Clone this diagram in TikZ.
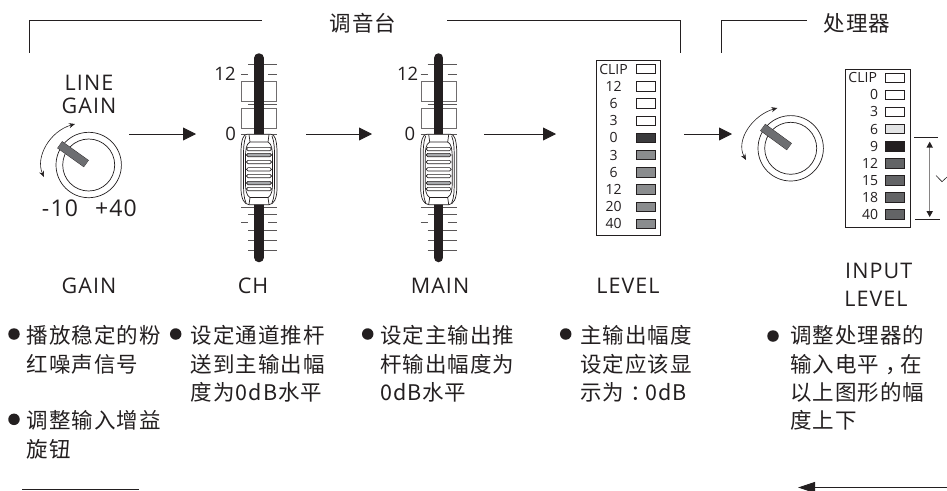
\documentclass[tikz,border=0pt]{standalone}
\usepackage{fontspec}
\setmainfont{Open Sans}
\newfontfamily\cjk[LetterSpace=4.5]{Noto Sans CJK SC}
\newfontfamily\lbl[LetterSpace=5]{Open Sans}
\usetikzlibrary{arrows.meta}
\definecolor{ink}{HTML}{231F20}
\definecolor{ptr}{HTML}{6D6E71}
\definecolor{ledA}{HTML}{8A8C8E}
\definecolor{ledB}{HTML}{636466}
\definecolor{ledC}{HTML}{3A3A3C}
\definecolor{ledD}{HTML}{E3E4E5}
\definecolor{ribg}{HTML}{A7A9AC}
\newcommand{\fullpunct}[1]{\hspace{6pt}#1\hspace{-6pt}}
\tikzset{
  ln/.style={draw=ink,line width=.9pt},
  flow/.style={ink,line width=.9pt,-{Triangle[length=13pt,width=13pt]}},
  turn/.style={ink,line width=.6pt,{Stealth[length=6pt,width=5pt]}-{Stealth[length=6pt,width=5pt]}},
  tick/.style={draw=ink!75,line width=.6pt},
  gate/.style={draw=ink!65,line width=.7pt,fill=white},
  capline/.style={draw=ink,line width=.7pt},
  rib/.style={draw=ink,line width=.6pt,fill=white,rounded corners=1.6pt},
  ribgray/.style={rib,fill=ribg},
  ring/.style={circle,draw=ink,line width=.7pt,inner sep=0pt,fill=white},
  led/.style={draw=ink,line width=.7pt,minimum width=19pt,minimum height=9.5pt,inner sep=0pt},
  meterbox/.style={draw=ink,line width=.8pt,inner sep=0pt},
  ml/.style={font=\fontsize{14}{14}\selectfont\color{ink},inner sep=0pt},
  big/.style={font=\lbl\fontsize{21.5}{21.5}\selectfont\color{ink},inner sep=0pt},
  rng/.style={font=\lbl\fontsize{23}{23}\selectfont\color{ink},inner sep=0pt},
  num/.style={font=\fontsize{18.5}{18.5}\selectfont\color{ink},inner sep=0pt},
  title/.style={font=\cjk\fontsize{21.5}{21.5}\selectfont\color{ink},inner sep=0pt},
  para/.style={font=\cjk\fontsize{21.5}{28.2}\selectfont\color{ink},inner sep=0pt,anchor=north west,align=left},
  dot/.style={circle,fill=ink,inner sep=0pt,minimum size=11.5pt},
  pics/fader/.style={code={
    \foreach \yy in {64.3,104.3,214.7,230.7,240.7,250.7} \draw[tick] (-11,\yy) -- (18,\yy);
    \foreach \yy in {134,207.3} \draw[tick] (-18,\yy) -- (18,\yy);
    \draw[gate] (-17.5,81.3) rectangle (17.5,101);
    \draw[gate] (-17.5,108.7) rectangle (17.5,128.3);
    \foreach \yy in {74.7,222.7} {\draw[tick] (-18,\yy) -- (-11,\yy); \draw[tick] (9,\yy) -- (18,\yy);}
    \draw[ink,line width=9.5pt,line cap=round] (0,58) -- (0,257.5);
    \path[capline,fill=white] (-12,134.3) -- (12,134.3) .. controls (16,134.5) and (17.5,140) .. (18,150) -- (18,190) .. controls (17.5,199) and (15,204) .. (10,204.7) -- (-10,204.7) .. controls (-15,204) and (-17.5,199) .. (-18,190) -- (-18,150) .. controls (-17.5,140) and (-16,134.5) .. (-12,134.3) -- cycle;
    \draw[capline] (-13,136) .. controls (-15.5,142) and (-15.5,150) .. (-15.5,158) -- (-15.5,182) .. controls (-15.5,190) and (-15.5,197) .. (-13,203);
    \draw[capline] (13,136) .. controls (15.5,142) and (15.5,150) .. (15.5,158) -- (15.5,182) .. controls (15.5,190) and (15.5,197) .. (13,203);
    \draw[capline] (-9,142) .. controls (-13,144) and (-13.5,150) .. (-13.5,158) -- (-13.5,182) .. controls (-13.5,190) and (-13,195) .. (-9,197.5) -- (9,197.5) .. controls (13,195) and (13.5,190) .. (13.5,182) -- (13.5,158) .. controls (13.5,150) and (13,144) .. (9,142) -- cycle;
    \draw[capline] (-9,142) -- (-10,134.5) (9,142) -- (10,134.5) (-9,197.5) -- (-10,204.5) (9,197.5) -- (10,204.5);
    \foreach \yy in {149,162,169.3,176,189} \draw[rib] (-12.5,\yy-1.7) rectangle (12.5,\yy+1.7);
    \foreach \yy in {155,183} \draw[ribgray] (-12.5,\yy-1.7) rectangle (12.5,\yy+1.7);
  }}
}
\begin{document}
\begin{tikzpicture}[x=1pt,y=-1pt]
\useasboundingbox (0,0) rectangle (947,490);
% titles and brackets
\node[title] (tMixer) at (363,23) {调音台};
\node[title] (tProc) at (857,23) {处理器};
\draw[ln] (29,52.7) -- (29,20) -- (262,20);
\draw[ln] (447,20) -- (680,20) -- (680,52.7);
\draw[ln] (721.7,52.7) -- (721.7,20) -- (807,20);
% knob 1
\node[big] (lineL) at (89,83) {LINE};
\node[big] (gainL) at (89,106) {GAIN};
\node[ring,minimum size=65.4pt] (knobA) at (88.7,165) {};
\node[ring,minimum size=52pt] (knobAi) at (88.7,165) {};
\draw[draw=ink,line width=8.5pt] (59.7,144.7) -- (86.3,163.7);
\draw[draw=ptr,line width=7.7pt] (59.9,144.85) -- (86.1,163.55);
\draw[turn] (75,124) .. controls (50,131) and (35,157) .. (44,177);
\node[rng] (minusL) at (60,208) {-10};
\node[rng] (plusL) at (116,208) {+40};
% faders
\pic (faderA) at (259,0) {fader};
\pic (faderB) at (438.7,0) {fader};
\node[num] (f1a) at (225,74) {12};
\node[num] (f1b) at (230.7,134) {0};
\node[num] (f2a) at (407.7,74) {12};
\node[num] (f2b) at (410,134) {0};
% meter 1
\node[meterbox,minimum width=64.4pt,minimum height=174.3pt] (meterA) at (628.5,147.85) {};
\foreach \lab/\cc/\i in {CLIP/white/0,12/white/1,6/white/2,3/white/3,0/ledC/4,3/ledA/5,6/ledA/6,12/ledA/7,20/ledA/8,40/ledA/9}{
  \node[led,fill=\cc] (ma\i) at (645.7,69+17.2*\i) {};
  \node[ml] (mal\i) at (613.5,69+17.2*\i) {\lab};
}
% knob 2
\node[ring,minimum size=65.4pt] (knobB) at (790.7,148.3) {};
\node[ring,minimum size=52pt] (knobBi) at (790.7,148.3) {};
\draw[draw=ink,line width=8.5pt] (762.7,127.3) -- (789.3,146.7);
\draw[draw=ptr,line width=7.7pt] (762.9,127.45) -- (789.1,146.55);
\draw[turn] (777.3,108) .. controls (753,115) and (735,140) .. (746,160);
% meter 2
\node[meterbox,minimum width=64.6pt,minimum height=157.6pt] (meterB) at (878,148.5) {};
\foreach \lab/\cc/\i in {0/white/1,3/white/2,6/ledD/3,9/ink/4,12/ledB/5,15/ledB/6,18/ledB/7,40/ledB/8}{
  \node[led,fill=\cc] (mb\i) at (895,77.7+17.1*\i) {};
  \node[ml,anchor=east] (mbl\i) at (878.3,77.7+17.1*\i) {\lab};
}
\node[led,fill=white] (mb0) at (895,77.7) {};
\node[ml] (mbl0) at (862.7,77.7) {CLIP};
% range marker
\coordinate (rTopL) at (914.3,137);
\coordinate (rTopR) at (938.3,137);
\coordinate (rBotL) at (915,219.3);
\coordinate (rBotR) at (940,219.3);
\coordinate (rUp) at (929.7,141.7);
\coordinate (rDn) at (929.7,217);
\draw[ink,line width=.8pt] (rTopL) -- (rTopR);
\draw[ink,line width=.8pt] (rBotL) -- (rBotR);
\draw[ink!55,line width=1pt] (929.7,146) -- (929.7,212);
\draw[draw=none,fill=ink] (rUp) -- ++(3.3,6) -- ++(-6.6,0) -- cycle;
\draw[draw=none,fill=ink] (rDn) -- ++(3.3,-6) -- ++(-6.6,0) -- cycle;
\draw[ink,line width=.6pt] (936,175.5) -- (942,181.7) -- (947,177);
% flow arrows
\coordinate (a1s) at (129,134); \coordinate (a1e) at (196,134);
\coordinate (a2s) at (306,134); \coordinate (a2e) at (372,134);
\coordinate (a3s) at (484,134); \coordinate (a3e) at (556,134);
\coordinate (a4s) at (684,134); \coordinate (a4e) at (732,134);
\draw[flow] (a1s) -- (a1e);
\draw[flow] (a2s) -- (a2e);
\draw[flow] (a3s) -- (a3e);
\draw[flow] (a4s) -- (a4e);
% section labels
\node[big] (sGain) at (89,286) {GAIN};
\node[big] (sCh) at (253,286) {CH};
\node[big] (sMain) at (440,286) {MAIN};
\node[big] (sLevel) at (628,286) {LEVEL};
\node[big] (sInput) at (878.7,271) {INPUT};
\node[big] (sLevelB) at (876,299) {LEVEL};
% bullets
\node[dot] (d1) at (14,334) {};
\node[para] (p1) at (26.7,325.5) {播放稳定的粉\\红噪声信号};
\node[dot] (d1b) at (14,419.3) {};
\node[para] (p1b) at (26.7,410.5) {调整输入增益\\旋钮};
\node[dot] (d2) at (175.7,334) {};
\node[para] (p2) at (190.7,325.5) {设定通道推杆\\送到主输出幅\\度为0dB水平};
\node[dot] (d3) at (367.7,334) {};
\node[para] (p3) at (380,325.5) {设定主输出推\\杆输出幅度为\\0dB水平};
\node[dot] (d4) at (565.7,334) {};
\node[para] (p4) at (580,325.5) {主输出幅度\\设定应该显\\示为\fullpunct{：}0dB};
\node[dot] (d5) at (773,336) {};
\node[para] (p5) at (790.3,325.5) {调整处理器的\\输入电平\fullpunct{，}在\\以上图形的幅\\度上下};
% bottom rules
\coordinate (bl1) at (22,489); \coordinate (bl2) at (139,489);
\draw[ln] (bl1) -- (bl2);
\coordinate (br1) at (947,487.5); \coordinate (br2) at (798,487.5);
\draw[ink,line width=.9pt,-{Triangle[length=17pt,width=11pt]}] (br1) -- (br2);
\end{tikzpicture}
\end{document}
